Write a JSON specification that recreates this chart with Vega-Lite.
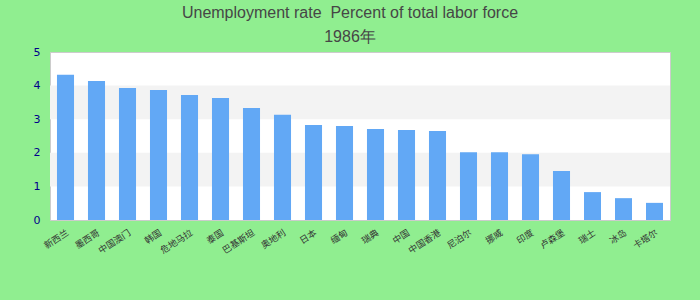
{
  "$schema": "https://vega.github.io/schema/vega-lite/v6.json",
  "autosize": "none",
  "width": 620,
  "height": 168,
  "padding": {"left": 50, "top": 52, "right": 30, "bottom": 80},
  "background": "#90ee90",
  "title": {
    "text": "Unemployment rate\u00a0\u00a0Percent of total labor force",
    "subtitle": "1986年",
    "anchor": "middle",
    "dx": -10,
    "offset": 1,
    "font": "Liberation Sans",
    "fontSize": 16,
    "fontWeight": "normal",
    "color": "#464646",
    "subtitleFont": "Liberation Sans",
    "subtitleFontSize": 16,
    "subtitleColor": "#464646",
    "subtitlePadding": 8
  },
  "config": {
    "view": {"stroke": "#cccccc", "strokeWidth": 1, "fill": "#ffffff"},
    "axis": {"grid": false, "ticks": false, "domain": false, "title": null},
    "axisY": {"values": [0, 1, 2, 3, 4, 5], "labelColor": "#00008b", "labelFontSize": 11, "labelPadding": 10, "labelFont": "DejaVu Sans", "labelOverlap": false, "labelFlush": false}
  },
  "layer": [
    {
      "data": {"values": [{"from": 1, "to": 2}, {"from": 3, "to": 4}]},
      "mark": {"type": "rect", "color": "#f3f3f3"},
      "encoding": {
        "y": {"field": "from", "type": "quantitative", "scale": {"domain": [0, 5], "nice": false}, "axis": {"values": [0, 1, 2, 3, 4, 5]}},
        "y2": {"field": "to"}
      }
    },
    {
      "data": {"values": [
        {"country": "新西兰", "rate": 4.32},
        {"country": "墨西哥", "rate": 4.14},
        {"country": "中国澳门", "rate": 3.93},
        {"country": "韩国", "rate": 3.87},
        {"country": "危地马拉", "rate": 3.72},
        {"country": "泰国", "rate": 3.63},
        {"country": "巴基斯坦", "rate": 3.33},
        {"country": "奥地利", "rate": 3.13},
        {"country": "日本", "rate": 2.83},
        {"country": "缅甸", "rate": 2.8},
        {"country": "瑞典", "rate": 2.71},
        {"country": "中国", "rate": 2.68},
        {"country": "中国香港", "rate": 2.65},
        {"country": "尼泊尔", "rate": 2.02},
        {"country": "挪威", "rate": 2.02},
        {"country": "印度", "rate": 1.96},
        {"country": "卢森堡", "rate": 1.46},
        {"country": "瑞士", "rate": 0.83},
        {"country": "冰岛", "rate": 0.65},
        {"country": "卡塔尔", "rate": 0.51}
      ]},
      "mark": {"type": "bar", "color": "#62a8f5"},
      "encoding": {
        "x": {
          "field": "country", "type": "nominal", "sort": null,
          "scale": {"paddingInner": 0.45, "paddingOuter": 0.225},
          "axis": {"labelAngle": -33, "labelFontSize": 9, "labelColor": "#333333", "labelPadding": 8, "labelFont": "Noto Sans CJK SC", "labelOverlap": false}
        },
        "y": {
          "field": "rate", "type": "quantitative",
          "scale": {"domain": [0, 5], "nice": false},
          "axis": {"values": [0, 1, 2, 3, 4, 5]}
        }
      }
    }
  ]
}
